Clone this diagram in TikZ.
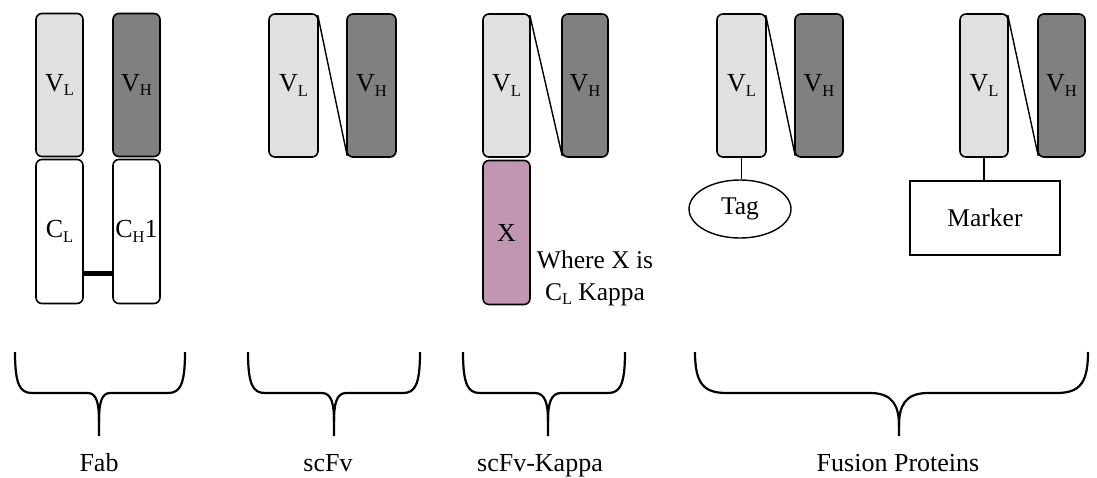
\documentclass[tikz,border=0pt]{standalone}
\usepackage{fontspec}
\setmainfont{Liberation Serif}
\usetikzlibrary{shapes.geometric}
\definecolor{vlcol}{RGB}{224,224,224}
\definecolor{vhcol}{RGB}{128,128,128}
\definecolor{xcol}{RGB}{192,150,178}
\newcommand\mysub[1]{\raisebox{-4.5pt}{\fontsize{16.5}{16.5}\selectfont #1}}
\newcommand\ubrace[6]{%
 \draw[brace] (#1,352) .. controls (#1,385) and ({#1+#5*0.3},393) .. ({#1+#5},393) -- ({#3-#4},393) .. controls ({#3-#4*0.2},393) and (#3,{393+(#6-393)*0.4}) .. (#3,#6) -- (#3,436);
 \draw[brace] (#3,#6) .. controls (#3,{393+(#6-393)*0.4}) and ({#3+#4*0.2},393) .. ({#3+#4},393) -- ({#2-#5},393) .. controls ({#2-#5*0.3},393) and (#2,385) .. (#2,352);}
\begin{document}
\begin{tikzpicture}[x=1pt,y=-1pt,
  dom/.style={draw=black, line width=1.6pt, rounded corners=6pt, inner sep=0pt,
     minimum width=47pt, minimum height=143pt, font=\fontsize{26}{28}\selectfont},
  vl/.style={dom, fill=vlcol},
  vh/.style={dom, fill=vhcol},
  cbox/.style={dom, fill=white},
  xbox/.style={dom, fill=xcol},
  link/.style={draw=black, line width=1.4pt},
  brace/.style={draw=black, line width=2.2pt},
  lab/.style={font=\fontsize{26}{28}\selectfont, anchor=base, inner sep=0pt},
  txt/.style={font=\fontsize{25.5}{32}\selectfont}]
\useasboundingbox (0,0) rectangle (1097,477);
% Fab
\node[vl] (fVL) at (59.5,85) {V\mysub{L}};
\node[vh] (fVH) at (136.5,85) {V\mysub{H}};
\node[cbox, minimum height=144pt] (fCL) at (59.5,231.5) {C\mysub{L}};
\node[cbox, minimum height=144pt] (fCH) at (136.5,231.5) {C\mysub{H}1};
\draw[line width=5pt] ([yshift=-41.5pt]fCL.east) -- ([yshift=-41.5pt]fCH.west);
% scFv
\node[vl, minimum width=49pt] (sVL) at (293.5,85.5) {V\mysub{L}};
\node[vh, minimum width=49pt] (sVH) at (371.5,85.5) {V\mysub{H}};
\draw[link] ([xshift=-1pt,yshift=-2pt]sVL.north east) -- ([xshift=1pt,yshift=2pt]sVH.south west);
% scFv-Kappa
\node[vl] (kVL) at (506.5,85.5) {V\mysub{L}};
\node[vh, minimum width=46pt] (kVH) at (585,85.5) {V\mysub{H}};
\draw[link] ([xshift=-1pt,yshift=-2pt]kVL.north east) -- ([xshift=1pt,yshift=2pt]kVH.south west);
\node[xbox, minimum height=144pt] (kX) at (506.5,232.5) {X};
\node[txt, align=center, anchor=base] (kNote) at (595,300) {Where X is\\C\mysub{L} Kappa};
% Fusion tag
\node[vl, minimum width=49pt] (tVL) at (741.5,85.5) {V\mysub{L}};
\node[vh, minimum width=48pt] (tVH) at (819,85.5) {V\mysub{H}};
\draw[link] ([xshift=-1pt,yshift=-2pt]tVL.north east) -- ([xshift=1pt,yshift=2pt]tVH.south west);
\node[ellipse, draw=black, line width=1.4pt, minimum width=102pt, minimum height=58pt, inner sep=0pt, txt] (tag) at (740,209) {Tag};
\draw[link] (tVL.south) -- (tVL.south |- tag.north);
% Fusion marker
\node[vl, minimum width=48pt] (mVL) at (984,85.5) {V\mysub{L}};
\node[vh, minimum width=47pt] (mVH) at (1061.5,85.5) {V\mysub{H}};
\draw[link] ([xshift=-1pt,yshift=-2pt]mVL.north east) -- ([xshift=1pt,yshift=2pt]mVH.south west);
\node[rectangle, draw=black, line width=1.4pt, minimum width=150pt, minimum height=74pt, inner sep=0pt, txt] (mark) at (985,218) {Marker};
\draw[link] (mVL.south) -- (mVL.south |- mark.north);
% braces
\ubrace{15}{185}{99}{11}{17}{421}
\ubrace{248}{420}{334}{12}{17}{421}
\ubrace{463}{625}{548}{13}{17}{421}
\ubrace{695}{1088}{899}{29}{32}{426}
% labels
\node[lab] (lFab) at (99,471) {Fab};
\node[lab] (lscFv) at (328,471) {scFv};
\node[lab] (lKap) at (540,471) {scFv-Kappa};
\node[lab] (lFus) at (898,471) {Fusion Proteins};
\end{tikzpicture}
\end{document}
